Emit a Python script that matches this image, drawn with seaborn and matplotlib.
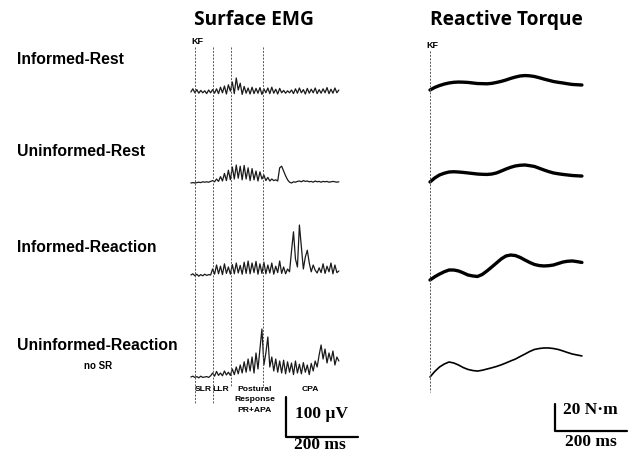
import numpy as np
import pandas as pd
import seaborn as sns
import matplotlib.pyplot as plt

# conditions (rows)
conditions = ["Informed-Rest", "Uninformed-Rest", "Informed-Reaction", "Uninformed-Reaction"]

emg_informed_rest = [0, 8, -2, 6, -3, 4, -2, 3, -4, 5, -2, 6, -3, 8, -4, 12, -2, 15, -5, 18,
                     2, 25, -4, 35, 5, 22, -6, 14, -3, 10, -5, 12, -4, 9, -3, 11, -6, 8, -2, 10,
                     -4, 12, -3, 7, -5, 9, -2, 4, -3, 3, -2, 5, -4, 8, -3, 10, -2, 6, -5, 9,
                     -3, 7, -2, 10, -4, 6, -3, 8, -2, 11, -4, 7, -3, 10, -2, 5]
emg_uninformed_rest = [0, 1, 0, 1, 2, 1, 3, 2, 3, 2, 4,
                       6, 3, 10, 4, 16, 5, 24, 6, 32, 8, 40, 10, 45, 12, 42, 8, 44, 10, 38, 6, 36, 8, 30, 5, 28, 10,
                       20, 6, 14, 5, 10, 6, 8, 5, 38,
                       42, 30, 18, 8, 2, 0, 3, 2, 4, 5, 3, 6, 4, 5, 3, 4, 2, 5, 3, 4, 2, 4, 3, 4, 2, 3, 4, 3, 2, 3]
emg_informed_reaction = [0, 3, -2, 2, -3, 1, -2, 2, -1, 1, 0,
                         15, 2, 25, 3, 22, 1, 28, 4, 20, 2, 26, 3, 30, 5, 24, 2, 32, 4, 35, 3, 30, 6, 34, 2, 28, 4,
                         32, 3, 25, 5, 30, 2, 22, 6, 35, 4, 20, 3, 15, 8,
                         60, 108, 40, 20, 125, 70, 15, 45, 62, 30, 8, 25, 12, 5, 18, 6, 28, 4, 22, 8, 30, 3, 25, 6, 10]
emg_uninformed_reaction = [0, 2, -1, 1, -2, 2, -1, 0, 1, -1, 3,
                           10, 2, 14, 4, 10, 3, 15, 5, 12, 4,
                           20, 6, 25, 8, 30, 10, 38, 12, 45, 15, 50, 10, 60, 20, 70,
                           120, 30, 60, 100, 25, 50, 15, 45, 12, 40,
                           10, 42, 8, 38, 12, 35, 6, 40, 10, 32, 8, 36, 12, 30, 6, 34, 15, 40,
                           25, 55, 80, 45, 70, 35, 60, 40, 65, 30, 50, 40]
emg_start_ms, emg_end_ms = -10, 401

# reactive torque traces, N*m, sampled 0..422 ms
torque_informed_rest = [0, 1.9, 3.3, 4.4, 5.2, 5.7, 5.9, 5.8, 5.6, 5.2, 4.8, 4.7, 4.6, 4.9, 5.6, 6.4, 7.4,
                        8.6, 9.6, 10.4, 10.7, 10.5, 10.0, 9.1, 8.1, 7.2, 6.3, 5.7, 5.2, 4.6, 4.1, 3.9, 3.7]
torque_uninformed_rest = [0, 3.0, 5.2, 6.5, 7.4, 7.6, 7.4, 7.1, 6.7, 6.3, 5.9, 5.7, 5.6, 5.9, 6.7, 8.1, 9.6,
                          10.9, 11.9, 12.4, 12.6, 12.1, 11.5, 10.2, 8.9, 7.7, 6.7, 6.1, 5.6, 5.2, 4.8, 4.6, 4.4]
torque_informed_reaction = [0, 2.4, 4.4, 6.1, 7.4, 7.4, 6.7, 5.3, 3.7, 3.0, 2.6, 4.1, 6.7, 9.6, 12.6, 15.6, 17.8,
                            18.5, 18.1, 16.7, 14.8, 13.0, 11.5, 10.7, 10.4, 10.6, 11.1, 12.2, 13.3, 13.9, 14.1, 13.6, 13.0]
torque_uninformed_reaction = [0, 4.1, 7.4, 9.6, 11.1, 10.4, 8.9, 7.0, 5.6, 4.8, 4.4, 5.0, 5.9, 6.8, 7.8, 9.0, 10.4,
                              11.9, 13.3, 15.2, 17.0, 18.9, 20.4, 21.1, 21.5, 21.5, 21.1, 20.4, 19.3, 18.1, 17.0, 16.3, 15.6]
torque_end_ms = 422

# event markers (ms after KF) and phase labels
events_ms = [0, 50, 100, 190]
phase_labels = ["SLR", "LLR", "Postural\nResponse\nPR+APA", "CPA"]

# scale bars
emg_bar_uv, emg_bar_ms = 100, 200
torque_bar_nm, torque_bar_ms = 20, 200

emg_traces = [emg_informed_rest, emg_uninformed_rest, emg_informed_reaction, emg_uninformed_reaction]
torque_traces = [torque_informed_rest, torque_uninformed_rest, torque_informed_reaction, torque_uninformed_reaction]

# ---- layout (pixels of a 628x454 canvas) ----
W, H = 628, 454
EMG_PX_MS, EMG_PX_UV, EMG_X0, EMG_Y0 = 0.36, 0.4, 194.5, 92
TRQ_PX_MS, TRQ_PX_NM, TRQ_X0, TRQ_Y0 = 0.36, 1.35, 430, 90
emg_rows_px = [92, 183, 275, 377]
trq_rows_px = [90, 182, 280, 377]

sns.set_theme(style="white")
plt.rcParams['font.family'] = ['Liberation Sans', 'DejaVu Sans']
plt.rcParams['text.color'] = 'black'

fig = plt.figure(figsize=(W / 100, H / 100), dpi=100)


def canvas_axes(name, px_ms, px_unit, x0, y0):
    ax = fig.add_axes([0, 0, 1, 1], label=name)
    ax.set_xlim(-x0 / px_ms, (W - x0) / px_ms)
    ax.set_ylim(-(H - y0) / px_unit, y0 / px_unit)
    ax.axis("off")
    ax.patch.set_alpha(0)
    return ax


emg_ax = canvas_axes("emg", EMG_PX_MS, EMG_PX_UV, EMG_X0, EMG_Y0)
trq_ax = canvas_axes("torque", TRQ_PX_MS, TRQ_PX_NM, TRQ_X0, TRQ_Y0)


def emg_y(px):
    return (EMG_Y0 - px) / EMG_PX_UV


def trq_y(px):
    return (TRQ_Y0 - px) / TRQ_PX_NM


# EMG traces
rows = []
for cond, vals, b in zip(conditions, emg_traces, emg_rows_px):
    t = np.linspace(emg_start_ms, emg_end_ms, len(vals))
    rows.append(pd.DataFrame({"cond": cond, "t": t, "uv": np.array(vals) + emg_y(b)}))
emg_df = pd.concat(rows)
for cond in conditions:
    sns.lineplot(data=emg_df[emg_df.cond == cond], x="t", y="uv", ax=emg_ax,
                 color="#1a1a1a", lw=0.9, sort=False, estimator=None)

# torque traces
widths = [2.4, 2.4, 2.4, 1.2]
for cond, vals, b, lw in zip(conditions, torque_traces, trq_rows_px, widths):
    t_trq = np.linspace(0, torque_end_ms, len(vals))
    d = pd.DataFrame({"t": t_trq, "nm": np.array(vals) + trq_y(b)})
    sns.lineplot(data=d, x="t", y="nm", ax=trq_ax, color="black", lw=lw, sort=False,
                 estimator=None, solid_joinstyle="round", solid_capstyle="round")

# event lines
bottoms = [403, 403, 386, 386]
for ev, bt in zip(events_ms, bottoms):
    emg_ax.plot([ev, ev], [emg_y(47), emg_y(bt)], color="#555555", lw=0.7, ls=(0, (2, 1.5)))
trq_ax.plot([0, 0], [trq_y(51), trq_y(392)], color="#555555", lw=0.7, ls=(0, (2, 1.5)))

# scale bars
t0 = (285.7 - EMG_X0) / EMG_PX_MS
yb = emg_y(437)
emg_ax.plot([t0, t0, t0 + emg_bar_ms], [yb + emg_bar_uv, yb, yb], color="black", lw=1.6)
t1 = (555 - TRQ_X0) / TRQ_PX_MS
yb2 = trq_y(431)
trq_ax.plot([t1, t1, t1 + torque_bar_ms], [yb2 + torque_bar_nm, yb2, yb2], color="black", lw=1.6)


def ptext(x, y, s, **kw):
    fig.text(x / W, 1 - y / H, s, **kw)


# titles
ptext(254, 20, "Surface EMG", fontsize=13.8, fontweight="bold", ha="center", va="center",
      family=["Open Sans", "DejaVu Sans"])
ptext(506, 20, "Reactive Torque", fontsize=13.8, fontweight="bold", ha="center", va="center",
      family=["Open Sans", "DejaVu Sans"])

# row labels
for cond, y in zip(conditions, [60, 152, 248, 346]):
    ptext(17, y, cond, fontsize=11.3, fontweight="bold", ha="left", va="center")
ptext(98, 366, "no SR", fontsize=7, fontweight="bold", ha="center", va="center")

ptext(197, 42, "KF", fontsize=6.5, fontweight="bold", ha="center", va="center")
ptext(432, 46, "KF", fontsize=6.5, fontweight="bold", ha="center", va="center")

# phase labels
for lab, x in zip(phase_labels, [203, 220.5, 255, 310.5]):
    ptext(x, 386, lab, fontsize=6.1, fontweight="bold", ha="center", va="top", linespacing=1.65)

serif = ["Liberation Serif", "DejaVu Serif"]
ptext(321, 414, "100 \u00b5V", fontsize=12.5, fontweight="bold", ha="center", va="center", family=serif)
ptext(320, 445, "200 ms", fontsize=12.5, fontweight="bold", ha="center", va="center", family=serif)
ptext(590, 410, "20 N\u00b7m", fontsize=12.5, fontweight="bold", ha="center", va="center", family=serif)
ptext(591, 442, "200 ms", fontsize=12.5, fontweight="bold", ha="center", va="center", family=serif)

fig.savefig("out.png", dpi=100)
